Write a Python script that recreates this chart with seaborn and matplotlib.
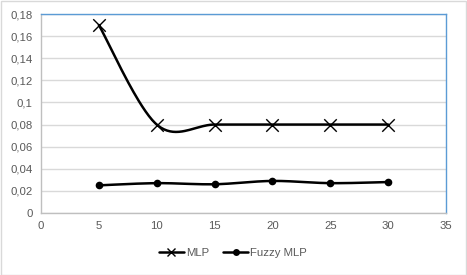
import numpy as np
import pandas as pd
import matplotlib
matplotlib.use("Agg")
import matplotlib.pyplot as plt
import seaborn as sns
from matplotlib.ticker import FuncFormatter, MultipleLocator
from matplotlib.lines import Line2D

x_vals = [5, 10, 15, 20, 25, 30]
mlp = [0.17, 0.08, 0.08, 0.08, 0.08, 0.08]
fuzzy_mlp = [0.025, 0.027, 0.026, 0.029, 0.027, 0.028]
series_names = ["MLP", "Fuzzy MLP"]


def excel_smooth(xs, ys, n=40):
    xs = np.asarray(xs, float)
    ys = np.asarray(ys, float)
    P = np.column_stack([xs, ys])
    out = []
    for i in range(len(P) - 1):
        p0 = P[i - 1] if i > 0 else P[i]
        p1 = P[i]
        p2 = P[i + 1]
        p3 = P[i + 2] if i + 2 < len(P) else P[i + 1]
        c1 = p1 + (p2 - p0) / 6.0
        c2 = p2 - (p3 - p1) / 6.0
        t = np.linspace(0, 1, n)[:, None]
        seg = ((1 - t) ** 3) * p1 + 3 * ((1 - t) ** 2) * t * c1 + 3 * (1 - t) * t ** 2 * c2 + t ** 3 * p2
        out.append(seg if i == 0 else seg[1:])
    arr = np.vstack(out)
    return arr[:, 0], arr[:, 1]


sns.set_theme(style="white")
plt.rcParams["font.family"] = ["Liberation Sans", "DejaVu Sans"]

fig = plt.figure(figsize=(4.67, 2.75), dpi=100)
ax = fig.add_axes([41 / 467, 1 - 213 / 275, (446 - 41) / 467, (213 - 14) / 275])

df = pd.DataFrame({"x": x_vals * 2,
                   "y": mlp + fuzzy_mlp,
                   "series": [series_names[0]] * 6 + [series_names[1]] * 6})

for name, ys, marker, ms in [(series_names[0], mlp, "x", 9), (series_names[1], fuzzy_mlp, "o", 5.5)]:
    sx, sy = excel_smooth(x_vals, ys)
    ax.plot(sx, sy, color="black", lw=1.8, zorder=3)
    sub = df[df.series == name]
    sns.scatterplot(data=sub, x="x", y="y", marker=marker, color="black",
                    s=ms ** 2, linewidth=1.0 if marker == "x" else 0, ax=ax, zorder=4, legend=False)

ax.set_xlim(0, 35)
ax.set_ylim(0, 0.18)
ax.xaxis.set_major_locator(MultipleLocator(5))
ax.yaxis.set_major_locator(MultipleLocator(0.02))
ax.yaxis.set_major_formatter(FuncFormatter(lambda v, p: ("%g" % round(v, 4)).replace(".", ",")))
ax.xaxis.set_major_formatter(FuncFormatter(lambda v, p: "%g" % v))
ax.grid(axis="y", color="#d9d9d9", lw=1)
ax.set_axisbelow(True)
ax.set_xlabel("")
ax.set_ylabel("")
for side in ["left", "bottom"]:
    ax.spines[side].set_color("#bfbfbf")
    ax.spines[side].set_linewidth(1)
for side in ["top", "right"]:
    ax.spines[side].set_color("#5b9bd5")
    ax.spines[side].set_linewidth(1)
ax.tick_params(axis="both", length=0, labelsize=8.2, colors="#595959", pad=6)

handles = [Line2D([], [], color="black", lw=1.8, marker="x", ms=6, mew=1.0),
           Line2D([], [], color="black", lw=1.8, marker="o", ms=5, mew=0)]
fig.legend(handles, series_names, loc="center", bbox_to_anchor=(233 / 467, 1 - 253 / 275),
           ncol=2, frameon=False, fontsize=8.2, labelcolor="#595959",
           handlelength=2.2, handletextpad=0.2, columnspacing=1.2)

fig.patches.append(plt.Rectangle((0.5 / 467, 0.5 / 275), 1 - 1.5 / 467, 1 - 1.5 / 275,
                                 transform=fig.transFigure, fill=False, edgecolor="#d9d9d9", lw=1))
fig.savefig("out.png", dpi=100)
